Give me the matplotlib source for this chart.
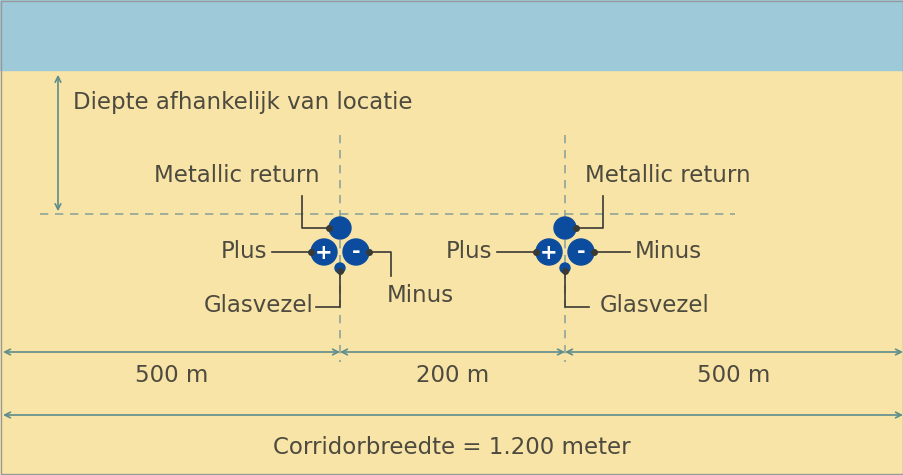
import matplotlib.pyplot as plt
from matplotlib.patches import Circle, Rectangle

# data
segment_labels = ["500 m", "200 m", "500 m"]
segment_lengths = [500, 200, 500]
total_label = "Corridorbreedte = 1.200 meter"
depth_label = "Diepte afhankelijk van locatie"

W, H = 904, 475
SAND = "#f8e4a6"
SKY = "#9dc9d9"
TXT = "#4d4a3f"
LINE = "#5d8c8c"
DASH = "#8fa49a"
BLUE = "#0b4c9e"
DARK = "#3a3a34"
FS = 16.5

fig = plt.figure(figsize=(9.04, 4.75), dpi=100)
ax = fig.add_axes([0, 0, 1, 1])
ax.set_xlim(0, W)
ax.set_ylim(H, 0)
ax.axis("off")

ax.add_patch(Rectangle((0, 0), W, H, color=SAND))
ax.add_patch(Rectangle((0, 0), W, 70, color=SKY))
ax.add_patch(Rectangle((1, 1), W - 2, H - 2, fill=False, ec="#999999", lw=1))

# diagram is not to scale: boundary positions in pixels
edges = [3, 340, 565, 903]
x0, x1 = edges[0], edges[-1]
ca, cb = edges[1], edges[2]

# dashed guides
ax.plot([40, 735], [214, 214], ls=(0, (5, 4)), color=DASH, lw=1.2)
for cx in (ca, cb):
    ax.plot([cx, cx], [135, 362], ls=(0, (5, 4)), color=DASH, lw=1.2)

# depth arrow
ax.annotate("", xy=(58, 214), xytext=(58, 72),
            arrowprops=dict(arrowstyle="<->", color=LINE, lw=1.2))
ax.text(73, 103, depth_label, fontsize=FS, color=TXT, va="center")


def bundle(cx, mirror):
    s = -1 if mirror else 1
    ax.add_patch(Circle((cx, 228), 11, color=BLUE, zorder=5))
    ax.add_patch(Circle((cx - 16, 252), 13, color=BLUE, zorder=5))
    ax.add_patch(Circle((cx + 16, 252), 13, color=BLUE, zorder=5))
    ax.add_patch(Circle((cx, 268), 5, color=BLUE, zorder=5))
    ax.text(cx - 16, 253, "+", color="white", fontsize=15, fontweight="bold",
            ha="center", va="center", zorder=6)
    ax.text(cx + 16, 252, "-", color="white", fontsize=15, fontweight="bold",
            ha="center", va="center", zorder=6)
    # metallic return leader
    mx = cx - 38 * s
    ax.plot([mx, mx, cx - 11 * s], [196, 228, 228], color=DARK, lw=1.2, zorder=4)
    ax.plot(cx - 11 * s, 228, "o", ms=4, color=DARK, zorder=7)
    if mirror:
        ax.text(mx - 18, 175, "Metallic return", fontsize=FS, color=TXT, va="center")
    else:
        ax.text(mx + 18, 175, "Metallic return", fontsize=FS, color=TXT, va="center", ha="right")
    # plus
    ax.plot([cx - 68, cx - 29], [252, 252], color=DARK, lw=1.2, zorder=4)
    ax.plot(cx - 29, 252, "o", ms=4, color=DARK, zorder=7)
    ax.text(cx - 73, 252, "Plus", fontsize=FS, color=TXT, va="center", ha="right")
    # minus
    ax.plot(cx + 29, 252, "o", ms=4, color=DARK, zorder=7)
    if mirror:
        ax.plot([cx + 29, cx + 65], [252, 252], color=DARK, lw=1.2, zorder=4)
        ax.text(cx + 70, 252, "Minus", fontsize=FS, color=TXT, va="center")
    else:
        ax.plot([cx + 29, cx + 51, cx + 51], [252, 252, 276], color=DARK, lw=1.2, zorder=4)
        ax.text(cx + 80, 295, "Minus", fontsize=FS, color=TXT, va="center", ha="center")
    # glasvezel
    ax.plot([cx, cx, cx - 24 * s], [270, 307, 307], color=DARK, lw=1.2, zorder=4)
    ax.plot(cx, 271, "o", ms=4, color=DARK, zorder=7)
    if mirror:
        ax.text(cx + 35, 305, "Glasvezel", fontsize=FS, color=TXT, va="center")
    else:
        ax.text(cx - 26, 305, "Glasvezel", fontsize=FS, color=TXT, va="center", ha="right")


bundle(ca, False)
bundle(cb, True)

# dimension arrows
for i, lab in enumerate(segment_labels):
    a, b = edges[i], edges[i + 1]
    ax.annotate("", xy=(b, 352), xytext=(a, 352),
                arrowprops=dict(arrowstyle="<->", color=LINE, lw=1.2,
                                shrinkA=0, shrinkB=0))
    ax.text((a + b) / 2, 375, lab, fontsize=FS, color=TXT, ha="center", va="center")

ax.annotate("", xy=(x1, 415), xytext=(x0, 415),
            arrowprops=dict(arrowstyle="<->", color=LINE, lw=1.2, shrinkA=0, shrinkB=0))
ax.text(W / 2, 448, total_label, fontsize=FS, color=TXT, ha="center", va="center")

fig.savefig("out.png", dpi=100)
